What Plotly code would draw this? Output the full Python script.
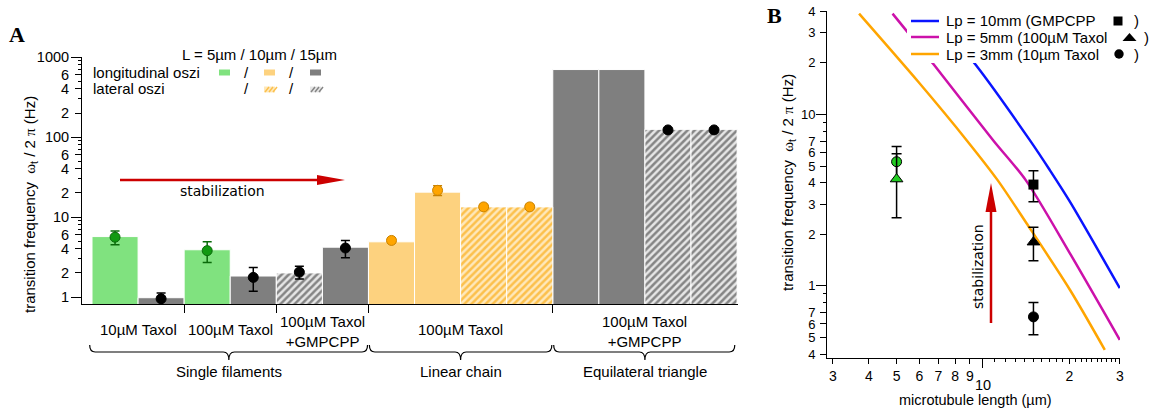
import math
import plotly.graph_objects as go

W, H = 1156, 409


def px(x):
    return x / W


def py(y):
    return 1 - y / H


# ---------------- Panel A data ----------------
bar_positions = list(range(14))
bar_values = [5.7, 0.98, 3.9, 1.83, 2.0, 4.2, 4.9, 20.5, 13.4, 13.4, 700, 700, 125, 125]
bar_styles = ["green", "gray", "green", "gray", "gray_hatch", "gray",
              "orange", "orange", "orange_hatch", "orange_hatch",
              "gray", "gray", "gray_hatch", "gray_hatch"]

green_x = [0, 2]
green_y = [5.6, 3.8]
green_err = [1.1, 1.1]
black_x = [1, 3, 4, 5, 12, 13]
black_y = [0.95, 1.76, 2.05, 4.1, 123, 123]
black_err = [0.17, 0.58, 0.37, 1.0, 0.0, 0.0]
orange_x = [6, 7, 8, 9]
orange_y = [5.1, 21.6, 13.4, 13.4]
orange_err = [0.3, 3.0, 0.0, 0.0]

separator_ticks = [1.5, 3.5, 5.5, 9.5]
condition_labels = ["10µM Taxol", "100µM Taxol", "100µM Taxol<br>+GMPCPP",
                    "100µM Taxol", "100µM Taxol<br>+GMPCPP"]
condition_centers = [0.5, 2.5, 4.5, 7.5, 11.5]
group_labels = ["Single filaments", "Linear chain", "Equilateral triangle"]
group_starts = [-0.55, 5.52, 9.52]
group_ends = [5.48, 9.48, 13.45]
group_centers = [2.47, 7.5, 11.5]

a_ytick_vals = [1, 2, 4, 6, 10, 20, 40, 60, 100, 200, 400, 600, 1000]
a_ytick_text = ["1", "2", "4", "6", "10", "2", "4", "6", "100", "2", "4", "6", "1000"]
a_yminor = [3, 5, 7, 8, 9, 30, 50, 70, 80, 90, 300, 500, 700, 800, 900]
a_ydecades = [1, 10, 100, 1000]

# ---------------- Panel B data ----------------
orange_len = [3.70, 5.95, 8.77, 11.25, 14.19, 20.1, 26.6]
orange_freq = [38.7, 15.5, 7.08, 4.14, 2.32, 0.95, 0.424]
magenta_len = [4.84, 6.76, 10.85, 14.1, 20.1, 30.0]
magenta_freq = [38.7, 19.4, 7.08, 4.14, 1.55, 0.485]
blue_len = [6.6, 9.45, 14.57, 17.1, 20.1, 30.0]
blue_freq = [40.0, 19.4, 7.08, 4.74, 3.10, 0.97]

circle_len = [5, 15]
circle_freq = [5.3, 0.66]
circle_err = [1.2, 0.14]
triangle_len = [5, 15]
triangle_freq = [4.2, 1.8]
triangle_err = [1.7, 0.4]
square_len = [15]
square_freq = [3.9]
square_err = [0.8]

b_xtick_vals = [3, 4, 5, 6, 7, 8, 9, 20, 30]
b_xtick_text = ["3", "4", "5", "6", "7", "8", "9", "2", "3"]
b_xminor = [11, 12, 13, 14, 15, 16, 17, 18, 19, 21, 22, 23, 24, 25, 26, 27, 28, 29]
b_ytick_vals = [0.4, 0.5, 0.6, 0.7, 1, 2, 3, 4, 5, 6, 7, 10, 20, 30, 40]
b_ytick_text = ["4", "5", "6", "7", "1", "2", "3", "4", "5", "6", "7", "10", "2", "3", "4"]
b_yminor = [0.8, 0.9, 8, 9]

# ---------------- styles ----------------
FONT = "Liberation Sans, Arial, sans-serif"
SERIF = "Liberation Serif, Times New Roman, serif"
SANS2 = "DejaVu Sans, Verdana, sans-serif"
SOLID = {"green": "#80e27f", "gray": "#7f7f7f", "orange": "#fdd27f"}
HATCH = {"gray_hatch": ("#858585", "#e6e6e6"), "orange_hatch": ("#fcc04c", "#fee8bb")}
RED = "#cc0000"

fig = go.Figure()

# solid bars
sx = [p for p, s in zip(bar_positions, bar_styles) if s in SOLID]
sy = [v for v, s in zip(bar_values, bar_styles) if s in SOLID]
sc = [SOLID[s] for s in bar_styles if s in SOLID]
fig.add_trace(go.Bar(x=sx, y=sy, width=1, marker=dict(color=sc, line=dict(color="white", width=1)),
                     showlegend=False, hoverinfo="skip"))
# hatched bars
for key, (fg, bg) in HATCH.items():
    hx = [p for p, s in zip(bar_positions, bar_styles) if s == key]
    hy = [v for v, s in zip(bar_values, bar_styles) if s == key]
    fig.add_trace(go.Bar(x=hx, y=hy, width=1,
                         marker=dict(color=fg, line=dict(color="white", width=1),
                                     pattern=dict(shape="/", fgcolor=fg, bgcolor=bg, size=5,
                                                  solidity=0.5, fillmode="replace")),
                         showlegend=False, hoverinfo="skip"))

# points with error bars (panel A)
for xs, ys, es, fill, edge in [(green_x, green_y, green_err, "#119911", "#0a6a0a"),
                               (black_x, black_y, black_err, "black", "black"),
                               (orange_x, orange_y, orange_err, "#ffa500", "#c98200")]:
    fig.add_trace(go.Scatter(x=xs, y=ys, mode="markers",
                             marker=dict(color=fill, size=10, line=dict(color=edge, width=1)),
                             error_y=dict(type="data", array=es, color=edge, thickness=1.5, width=4.5),
                             showlegend=False, hoverinfo="skip"))

# ---------------- Panel B traces ----------------
for xs, ys, col in [(blue_len, blue_freq, "#0a14ff"),
                    (magenta_len, magenta_freq, "#cc11aa"),
                    (orange_len, orange_freq, "#ffa500")]:
    fig.add_trace(go.Scatter(x=xs, y=ys, mode="lines", xaxis="x2", yaxis="y2",
                             line=dict(color=col, width=2.5, shape="spline", smoothing=0.8),
                             showlegend=False, hoverinfo="skip"))

fig.add_trace(go.Scatter(x=circle_len, y=circle_freq, mode="markers", xaxis="x2", yaxis="y2",
                         marker=dict(symbol="circle", size=10, color=["#22cc22", "black"],
                                     line=dict(color="black", width=1)),
                         error_y=dict(type="data", array=circle_err, color="black", thickness=1.5, width=5),
                         showlegend=False, hoverinfo="skip"))
fig.add_trace(go.Scatter(x=triangle_len, y=triangle_freq, mode="markers", xaxis="x2", yaxis="y2",
                         marker=dict(symbol="triangle-up", size=11, color=["#22cc22", "black"],
                                     line=dict(color="black", width=1)),
                         error_y=dict(type="data", array=triangle_err, color="black", thickness=1.5, width=5),
                         showlegend=False, hoverinfo="skip"))
fig.add_trace(go.Scatter(x=square_len, y=square_freq, mode="markers", xaxis="x2", yaxis="y2",
                         marker=dict(symbol="square", size=10, color="black"),
                         error_y=dict(type="data", array=square_err, color="black", thickness=1.5, width=5),
                         showlegend=False, hoverinfo="skip"))

# dummy traces for overlay tick axes (longer decade ticks)
fig.add_trace(go.Scatter(x=[0], y=[10], xaxis="x", yaxis="y3", mode="markers",
                         marker=dict(opacity=0), showlegend=False, hoverinfo="skip"))
fig.add_trace(go.Scatter(x=[10], y=[10], xaxis="x2", yaxis="y4", mode="markers",
                         marker=dict(opacity=0), showlegend=False, hoverinfo="skip"))
fig.add_trace(go.Scatter(x=[10], y=[10], xaxis="x3", yaxis="y2", mode="markers",
                         marker=dict(opacity=0), showlegend=False, hoverinfo="skip"))

A_YRANGE = [-0.0875, 3.002]
B_XRANGE = [math.log10(2.86), math.log10(30.05)]
B_YRANGE = [math.log10(0.38), math.log10(40.1)]
axis_common = dict(showgrid=False, zeroline=False, showline=True, linecolor="black", linewidth=1,
                   ticks="outside", tickcolor="black", tickwidth=1, fixedrange=True)
overlay_common = dict(showgrid=False, zeroline=False, showline=False, ticks="outside",
                      tickcolor="black", tickwidth=1, showticklabels=False, fixedrange=True)

fig.update_layout(
    width=W, height=H, margin=dict(l=0, r=0, t=0, b=0, autoexpand=False),
    paper_bgcolor="white", plot_bgcolor="white",
    barmode="overlay", bargap=0, hovermode=False,
    font=dict(family=FONT, size=15, color="black"),
    xaxis=dict(domain=[px(82), px(738)], range=[-0.717, 13.52], anchor="y",
               tickmode="array", tickvals=separator_ticks, ticklen=8, showticklabels=False,
               **axis_common),
    yaxis=dict(domain=[py(304), py(57)], type="log", range=A_YRANGE, anchor="x",
               tickmode="array", tickvals=a_ytick_vals, ticktext=a_ytick_text, ticklen=6,
               ticklabelstandoff=3, tickfont=dict(size=14.5, family=FONT, color="black"),
               ticklabeloverflow="allow",
               minor=dict(tickmode="array", tickvals=a_yminor, ticklen=3, ticks="outside",
                          tickcolor="black", showgrid=False),
               **axis_common),
    yaxis3=dict(overlaying="y", anchor="x", type="log", range=A_YRANGE, side="left",
                tickmode="array", tickvals=a_ydecades, ticklen=10, **overlay_common),
    xaxis2=dict(domain=[px(827), px(1120)], type="log", range=B_XRANGE, anchor="y2",
                tickmode="array", tickvals=b_xtick_vals, ticktext=b_xtick_text, ticklen=5,
                tickfont=dict(size=14, family=FONT, color="black"),
                minor=dict(tickmode="array", tickvals=b_xminor, ticklen=3, ticks="outside",
                           tickcolor="black", showgrid=False),
                **axis_common),
    xaxis3=dict(overlaying="x2", anchor="y2", type="log", range=B_XRANGE, side="bottom",
                tickmode="array", tickvals=[10], ticklen=9, **overlay_common),
    yaxis2=dict(domain=[py(358), py(11)], type="log", range=B_YRANGE, anchor="x2",
                tickmode="array", tickvals=b_ytick_vals, ticktext=b_ytick_text, ticklen=6,
                ticklabelstandoff=2, tickfont=dict(size=13, family=FONT, color="black"),
                ticklabeloverflow="allow",
                minor=dict(tickmode="array", tickvals=b_yminor, ticklen=3, ticks="outside",
                           tickcolor="black", showgrid=False),
                **axis_common),
    yaxis4=dict(overlaying="y2", anchor="x2", type="log", range=B_YRANGE, side="left",
                tickmode="array", tickvals=[1, 10], ticklen=10, **overlay_common),
)

ann = []
shapes = []


def text(x, y, s, size=15, xanchor="center", family=FONT, angle=0, xref="paper", color="black",
         yanchor="middle"):
    ann.append(dict(x=x if xref != "paper" else px(x), y=py(y), xref=xref, yref="paper", text=s,
                    showarrow=False, xanchor=xanchor, yanchor=yanchor, textangle=angle,
                    font=dict(size=size, family=family, color=color)))


# panel letters
text(17, 34, "<b>A</b>", size=22, family=SERIF)
text(774, 1, "<b>B</b>", size=22, family=SERIF, yanchor="top")

ylab = ('transition frequency  <span style="font-family:Liberation Serif">ω</span><sub>t</sub>'
        ' / 2 <span style="font-family:Liberation Serif">π</span> (Hz)')
text(30, 205, ylab, size=15, angle=-90)
text(788, 183, ylab, size=15, angle=-90)
text(975, 400, "microtubule length (µm)", size=14.5)
ann.append(dict(x=1, y=py(385), xref="x2", yref="paper", text="10", showarrow=False,
                xanchor="center", yanchor="middle", font=dict(size=14.5, family=FONT, color="black")))

# panel A legend
text(180, 54, "L = 5µm / 10µm / 15µm", size=15, xanchor="left")
text(91, 72, "longitudinal oszi", size=15, xanchor="left")
text(91, 89, "lateral oszi", size=15, xanchor="left")
for yy in (72, 89):
    text(246, yy, "/", size=15)
    text(291, yy, "/", size=15)


def prect(x0, y0, x1, y1, fill, layer="above"):
    shapes.append(dict(type="rect", xref="paper", yref="paper", x0=px(x0), x1=px(x1),
                       y0=py(y1), y1=py(y0), fillcolor=fill, line=dict(width=0), layer=layer))


def pline(x0, y0, x1, y1, color, width, layer="above"):
    shapes.append(dict(type="line", xref="paper", yref="paper", x0=px(x0), x1=px(x1),
                       y0=py(y0), y1=py(y1), line=dict(color=color, width=width), layer=layer))


def ppath(points, fill, layer="above"):
    d = "M " + " L ".join(f"{px(a):.5f},{py(b):.5f}" for a, b in points) + " Z"
    shapes.append(dict(type="path", xref="paper", yref="paper", path=d, fillcolor=fill,
                       line=dict(width=0), layer=layer))


prect(219, 69.5, 230, 75.5, SOLID["green"])
prect(264, 69.5, 275, 75.5, SOLID["orange"])
prect(310, 69.5, 321, 75.5, SOLID["gray"])
for x0, (fg, bg) in [(264, HATCH["orange_hatch"]), (310, HATCH["gray_hatch"])]:
    prect(x0, 86.5, x0 + 11, 92.5, bg)
    for k in range(3):
        pline(x0 + 1 + 4 * k, 92, x0 + 5 + 4 * k, 87, fg, 1.5)

# stabilization arrow (A)
pline(120, 180, 320, 180, RED, 2.5)
ppath([(317, 175), (345, 180), (317, 185)], RED)
text(222.5, 191, "stabilization", size=14, family=SANS2)

# category labels and braces (A)
for lab, c in zip(condition_labels, condition_centers):
    text(c, 331 if "<br>" in lab else 329, lab, size=15, xref="x")
y_top, y_mid, y_tip = py(345), py(352), py(360)
for x0, x1, xm in zip(group_starts, group_ends, group_centers):
    d = 0.12
    path = (f"M {x0},{y_top} Q {x0},{y_mid} {x0 + d},{y_mid} L {xm - d},{y_mid} "
            f"Q {xm},{y_mid} {xm},{y_tip} Q {xm},{y_mid} {xm + d},{y_mid} "
            f"L {x1 - d},{y_mid} Q {x1},{y_mid} {x1},{y_top}")
    shapes.append(dict(type="path", xref="x", yref="paper", path=path,
                       line=dict(color="black", width=1.2), layer="above"))
for lab, c in zip(group_labels, group_centers):
    text(c, 371, lab, size=15, xref="x")

# panel B legend
prect(907, 6, 1152, 63, "white")
for yy, col, lab in [(21, "#0a14ff", "Lp = 10mm (GMPCPP"),
                     (37, "#cc11aa", "Lp = 5mm (100µM Taxol"),
                     (54, "#ffa500", "Lp = 3mm (10µm Taxol")]:
    pline(911, yy, 939, yy, col, 2.5)
    text(944, yy, lab, size=15, xanchor="left")
prect(1113.5, 16.5, 1122.5, 25.5, "black")
ppath([(1122.5, 41), (1129.5, 33), (1136.5, 41)], "black")
shapes.append(dict(type="circle", xref="paper", yref="paper", x0=px(1114.3), x1=px(1123.7),
                   y0=py(58.7), y1=py(49.3), fillcolor="black", line=dict(width=0), layer="above"))
text(1136, 21, ")", size=15)
text(1146, 37, ")", size=15)
text(1136, 54, ")", size=15)

# stabilization arrow (B)
pline(991, 323, 991, 210, RED, 2.5)
ppath([(985.5, 212), (991, 183), (996.5, 212)], RED)
text(978, 267, "stabilization", size=14, family=SANS2, angle=-90)

fig.update_layout(annotations=ann, shapes=shapes)
fig.write_html("out.html", config={"displayModeBar": False, "staticPlot": True},
               post_script="document.body.style.margin='0px';document.body.style.overflow='hidden';")
